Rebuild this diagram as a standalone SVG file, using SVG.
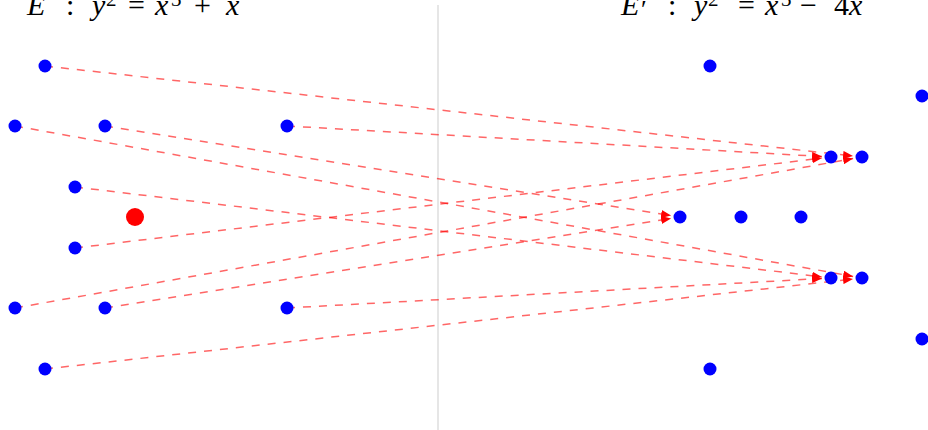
<svg xmlns="http://www.w3.org/2000/svg" width="928" height="430" viewBox="0 0 928 430">
<style>
.bg{fill:#ffffff}
.pt{fill:#0000ff}
.kern{fill:#ff0000}
.lnk{stroke:#ff0000;stroke-opacity:0.6;stroke-width:1.5;stroke-dasharray:8 8;fill:none}
.div{stroke:#e6e6e6;stroke-width:2}
.m{font-family:"Liberation Serif","DejaVu Serif",serif;font-size:30px;fill:#000}
.i{font-style:italic}
.sup{font-size:21px}
</style>
<defs>
<marker id="ah" markerUnits="userSpaceOnUse" markerWidth="10" markerHeight="8" refX="10" refY="4" orient="auto">
<path d="M0,0 L10,4 L0,8 z" fill="#ff0000"/>
</marker>
</defs>
<rect class="bg" x="0" y="0" width="928" height="430"/>
<line class="div" x1="438" y1="5" x2="438" y2="430"/>
<g id="label-E">
<text class="m i" x="27" y="15">E</text>
<text class="m" x="66" y="15">:</text>
<text class="m i" x="92" y="15">y</text>
<text class="m sup" x="106" y="6">2</text>
<text class="m" x="128" y="15">=</text>
<text class="m i" x="155" y="15">x</text>
<text class="m sup" x="171" y="6">3</text>
<text class="m" x="194" y="15">+</text>
<text class="m i" x="226" y="15">x</text>
</g>
<g id="label-E2">
<text class="m i" x="621" y="15">E</text>
<text class="m" x="641" y="18" style="font-size:26px">′</text>
<text class="m" x="668" y="15">:</text>
<text class="m i" x="694" y="15">y</text>
<text class="m sup" x="708" y="6">2</text>
<text class="m" x="738" y="15">=</text>
<text class="m i" x="765" y="15">x</text>
<text class="m sup" x="781" y="6">3</text>
<text class="m" x="800" y="15">−</text>
<text class="m" x="834" y="15">4</text>
<text class="m i" x="849" y="15">x</text>
</g>
<g id="connectors">
<line class="lnk" marker-end="url(#ah)" x1="45" y1="66" x2="853.05" y2="156"/>
<line class="lnk" marker-end="url(#ah)" x1="15" y1="126" x2="853.14" y2="276.41"/>
<line class="lnk" marker-end="url(#ah)" x1="105" y1="126" x2="671.11" y2="215.59"/>
<line class="lnk" marker-end="url(#ah)" x1="287" y1="126" x2="822.01" y2="156.49"/>
<line class="lnk" marker-end="url(#ah)" x1="75" y1="187" x2="822.07" y2="276.92"/>
<line class="lnk" marker-end="url(#ah)" x1="75" y1="248" x2="822.07" y2="158.08"/>
<line class="lnk" marker-end="url(#ah)" x1="15" y1="308" x2="853.14" y2="158.58"/>
<line class="lnk" marker-end="url(#ah)" x1="105" y1="308" x2="671.11" y2="218.41"/>
<line class="lnk" marker-end="url(#ah)" x1="287" y1="308" x2="822.01" y2="278.5"/>
<line class="lnk" marker-end="url(#ah)" x1="45" y1="369" x2="853.05" y2="279"/>
</g>
<g id="E-points">
<circle id="p-m3-5" class="pt" cx="45" cy="66" r="6.5"/>
<circle id="p-m4-3" class="pt" cx="15" cy="126" r="6.5"/>
<circle id="p-m1-3" class="pt" cx="105" cy="126" r="6.5"/>
<circle id="p-5-3" class="pt" cx="287" cy="126" r="6.5"/>
<circle id="p-m2-1" class="pt" cx="75" cy="187" r="6.5"/>
<circle id="p-0-0" class="kern" cx="135" cy="217" r="9"/>
<circle id="p-m2-m1" class="pt" cx="75" cy="248" r="6.5"/>
<circle id="p-m4-m3" class="pt" cx="15" cy="308" r="6.5"/>
<circle id="p-m1-m3" class="pt" cx="105" cy="308" r="6.5"/>
<circle id="p-5-m3" class="pt" cx="287" cy="308" r="6.5"/>
<circle id="p-m3-m5" class="pt" cx="45" cy="369" r="6.5"/>
</g>
<g id="E2-points">
<circle id="q-m1-5" class="pt" cx="710" cy="66" r="6.5"/>
<circle id="q-6-4" class="pt" cx="922" cy="96" r="6.5"/>
<circle id="q-3-2" class="pt" cx="831" cy="157" r="6.5"/>
<circle id="q-4-2" class="pt" cx="862" cy="157" r="6.5"/>
<circle id="q-m2-0" class="pt" cx="680" cy="217" r="6.5"/>
<circle id="q-0-0" class="pt" cx="741" cy="217" r="6.5"/>
<circle id="q-2-0" class="pt" cx="801" cy="217" r="6.5"/>
<circle id="q-3-m2" class="pt" cx="831" cy="278" r="6.5"/>
<circle id="q-4-m2" class="pt" cx="862" cy="278" r="6.5"/>
<circle id="q-6-m4" class="pt" cx="922" cy="339" r="6.5"/>
<circle id="q-m1-m5" class="pt" cx="710" cy="369" r="6.5"/>
</g>
</svg>
